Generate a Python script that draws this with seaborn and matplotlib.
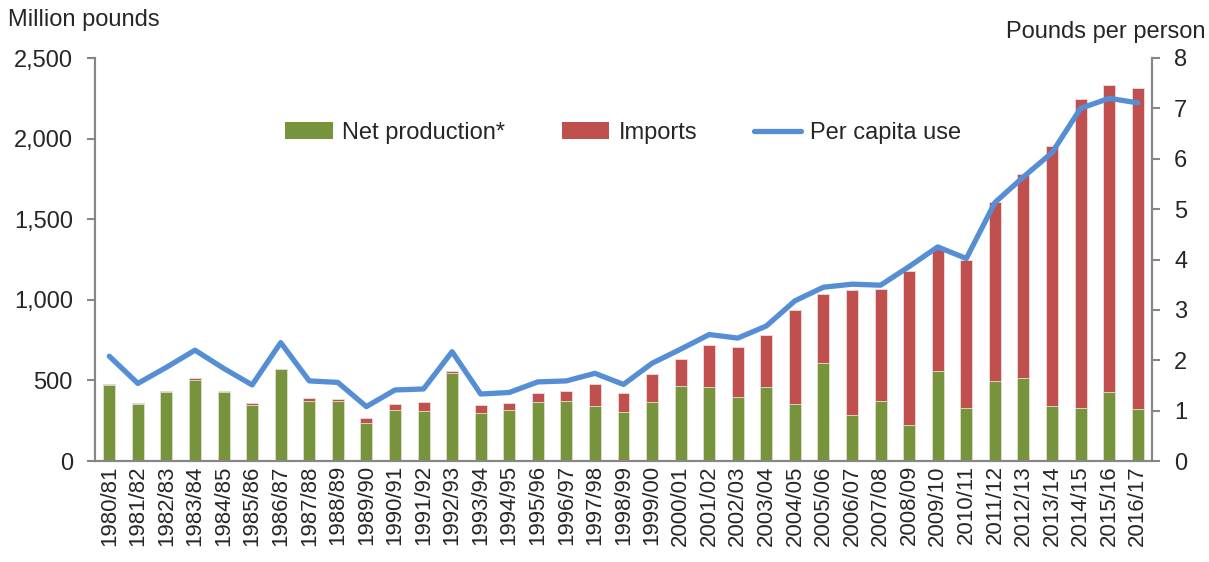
import numpy as np
import pandas as pd
import matplotlib
matplotlib.use("Agg")
import matplotlib.pyplot as plt
import seaborn as sns
from matplotlib.patches import Patch
from matplotlib.lines import Line2D
from matplotlib.ticker import FuncFormatter, FixedLocator

# Data
seasons = [f"{y}/{str(y + 1)[-2:]}" for y in range(1980, 2017)]
production = [472, 355, 427, 505, 430, 345, 568, 374, 372, 236, 318, 310, 544,
              296, 318, 368, 372, 341, 302, 368, 467, 459, 397, 461, 354, 610,
              285, 372, 223, 558, 329, 496, 513, 339, 327, 430, 323]
imports = [5, 3, 5, 12, 4, 15, 5, 15, 12, 31, 38, 56, 14,
           51, 40, 54, 60, 135, 120, 174, 164, 261, 310, 323, 585, 426,
           776, 697, 957, 767, 918, 1109, 1267, 1615, 1918, 1900, 1993]
per_capita = [2.08, 1.54, 1.86, 2.20, 1.84, 1.51, 2.35, 1.59, 1.56, 1.08, 1.41, 1.43, 2.17,
              1.33, 1.36, 1.57, 1.59, 1.74, 1.52, 1.94, 2.22, 2.51, 2.44, 2.68, 3.18, 3.45,
              3.51, 3.49, 3.86, 4.25, 4.02, 5.13, 5.64, 6.12, 7.00, 7.20, 7.11]

df = pd.DataFrame({"season": seasons, "production": production, "imports": imports,
                   "per_capita": per_capita})
df["total"] = df["production"] + df["imports"]
df["pos"] = np.arange(len(df))

green = "#77933C"
red = "#C0504D"
blue = "#558ED5"
gray = "#868686"
fs = 17

sns.set_style("white")
plt.rcParams["font.family"] = ["Liberation Sans", "DejaVu Sans"]
plt.rcParams["font.size"] = fs

fig = plt.figure(figsize=(12.09, 5.62), dpi=100)
ax = fig.add_axes([95 / 1209, 101 / 562, 1057 / 1209, 403 / 562])

# stacked bars: total in red, production in green drawn over it
sns.barplot(data=df, x="season", y="total", color=red, width=0.42, ax=ax,
            saturation=1, edgecolor="#f0dcdc", linewidth=0.6)
sns.barplot(data=df, x="season", y="production", color=green, width=0.42, ax=ax,
            saturation=1, edgecolor="#dfe6d2", linewidth=0.6)

ax.set_xlim(-0.5, len(df) - 0.5)
ax.set_ylim(0, 2500)
ax.set_yticks(range(0, 2501, 500))
ax.yaxis.set_major_formatter(FuncFormatter(lambda v, p: f"{int(v):,}"))
ax.set_xlabel("")
ax.set_ylabel("")
ax.set_xticks(df["pos"])
ax.set_xticklabels(seasons, rotation=90)
ax.xaxis.set_minor_locator(FixedLocator(np.arange(-0.5, len(df), 1.0)))
ax.tick_params(axis="x", which="major", length=0, pad=3, labelsize=16)
ax.tick_params(axis="x", which="minor", length=6, width=1.5, color=gray, direction="out")
ax.tick_params(axis="y", length=6, width=1.5, color=gray, direction="out", pad=10, labelsize=fs)

ax.spines["top"].set_visible(False)
for s in ["left", "bottom", "right"]:
    ax.spines[s].set_color(gray)
    ax.spines[s].set_linewidth(1.5)

ax2 = ax.twinx()
sns.lineplot(data=df, x="pos", y="per_capita", color=blue, linewidth=3.8, ax=ax2)
ax2.set_ylim(0, 8)
ax2.set_yticks(range(0, 9))
ax2.set_ylabel("")
ax2.set_xlabel("")
ax2.tick_params(axis="y", length=6, width=1.5, color=gray, direction="out", pad=10, labelsize=fs)
ax2.spines["top"].set_visible(False)
for s in ["left", "bottom", "right"]:
    ax2.spines[s].set_color(gray)
    ax2.spines[s].set_linewidth(1.5)
ax2.set_xlim(-0.5, len(df) - 0.5)

handles = [Patch(facecolor=green, edgecolor="none"),
           Patch(facecolor=red, edgecolor="none"),
           Line2D([0], [0], color=blue, linewidth=3.8)]
ax.legend(handles, ["Net production*", "Imports", "Per capita use"], ncol=3,
          loc="center", bbox_to_anchor=(0.5, 0.814), frameon=False, fontsize=fs,
          handlelength=2.0, handleheight=0.7, handletextpad=0.4, columnspacing=2.4)

fig.text(8 / 1209, 1 - 20 / 562, "Million pounds", fontsize=fs, va="center", ha="left")
fig.text(1205 / 1209, 1 - 32 / 562, "Pounds per person", fontsize=fs, va="center", ha="right")

fig.savefig("out.png", dpi=100)
